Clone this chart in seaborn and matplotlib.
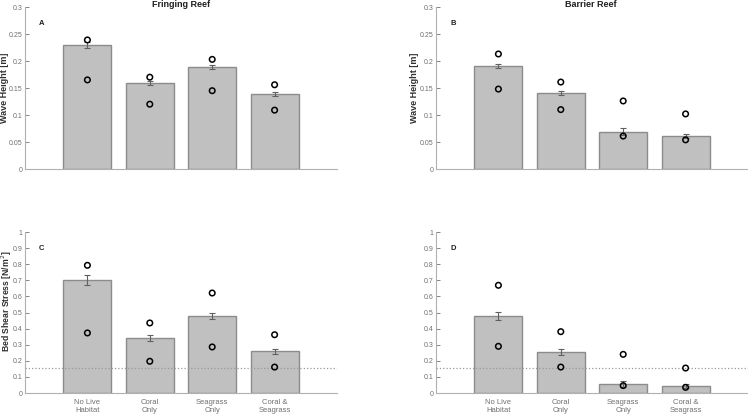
import numpy as np
import pandas as pd
import matplotlib
matplotlib.use('Agg')
import matplotlib.pyplot as plt
import seaborn as sns

# ── data ─────────────────────────────────────────────────────────────────
categories = ['No Live\nHabitat', 'Coral\nOnly', 'Seagrass\nOnly', 'Coral &\nSeagrass']

wave_fring_mean = [0.230, 0.159, 0.189, 0.139]
wave_fring_err  = [0.005, 0.004, 0.004, 0.004]
wave_fring_hi   = [0.239, 0.170, 0.203, 0.156]
wave_fring_lo   = [0.165, 0.120, 0.145, 0.109]

wave_barr_mean = [0.191, 0.141, 0.069, 0.061]
wave_barr_err  = [0.004, 0.004, 0.006, 0.004]
wave_barr_hi   = [0.213, 0.161, 0.126, 0.102]
wave_barr_lo   = [0.148, 0.110, 0.061, 0.054]

shear_fring_mean = [0.702, 0.342, 0.478, 0.259]
shear_fring_err  = [0.030, 0.020, 0.020, 0.016]
shear_fring_hi   = [0.793, 0.435, 0.621, 0.362]
shear_fring_lo   = [0.373, 0.197, 0.286, 0.161]

shear_barr_mean = [0.478, 0.257, 0.056, 0.043]
shear_barr_err  = [0.027, 0.019, 0.017, 0.010]
shear_barr_hi   = [0.669, 0.381, 0.240, 0.155]
shear_barr_lo   = [0.290, 0.161, 0.046, 0.035]

shear_threshold = 0.155

BAR_FACE = '#c0c0c0'
BAR_EDGE = '#8c8c8c'
AX_GREY  = '#b0b0b0'
TXT_GREY = '#707070'

sns.set_style('white')
plt.rcParams['font.family'] = ['Liberation Sans', 'DejaVu Sans']

W, H = 748, 415
fig = plt.figure(figsize=(W / 100, H / 100), dpi=100)

def px_axes(left, top, right, bottom):
    return fig.add_axes([left / W, 1 - bottom / H, (right - left) / W, (bottom - top) / H])

ax_a = px_axes(25, 7, 337, 169)
ax_b = px_axes(436, 7, 748, 169)
ax_c = px_axes(25, 232, 337, 393)
ax_d = px_axes(436, 232, 748, 393)


def draw_panel(ax, mean, err, hi, lo, ymax, yticks, letter, letter_y, show_x):
    df = pd.DataFrame({'habitat': categories, 'value': mean})
    sns.barplot(data=df, x='habitat', y='value', ax=ax, color=BAR_FACE,
                saturation=1, width=0.77, edgecolor=BAR_EDGE, linewidth=1.0,
                errorbar=None, order=categories)
    xs = np.arange(len(categories))
    ax.errorbar(xs, mean, yerr=err, fmt='none', ecolor='#606060',
                elinewidth=0.8, capsize=2, capthick=0.8, zorder=4)
    pts = pd.DataFrame({'habitat': categories * 2, 'value': list(hi) + list(lo)})
    sns.stripplot(data=pts, x='habitat', y='value', ax=ax, order=categories,
                  jitter=False, size=4, marker='o', facecolor='none',
                  edgecolor='black', linewidth=1.1, zorder=5)
    ax.set_xlim(-1, 4)
    ax.set_ylim(0, ymax)
    ax.set_yticks(yticks)
    ax.set_yticklabels([f'{t:g}' for t in yticks])
    ax.set_xlabel('')
    ax.set_ylabel('')
    for s in ('top', 'right'):
        ax.spines[s].set_visible(False)
    for s in ('left', 'bottom'):
        ax.spines[s].set_color(AX_GREY)
        ax.spines[s].set_linewidth(0.8)
    ax.tick_params(axis='y', direction='in', length=3, width=0.6, color=TXT_GREY,
                   labelsize=5, labelcolor=TXT_GREY, pad=1.8, left=True)
    if show_x:
        ax.tick_params(axis='x', length=0, labelsize=5.5, labelcolor=TXT_GREY, pad=4)
    else:
        ax.set_xticklabels([])
        ax.tick_params(axis='x', length=0)
    ax.text(-0.73, letter_y, letter, fontsize=5.5, fontweight='bold', color='#202020',
            ha='center', va='center')


draw_panel(ax_a, wave_fring_mean, wave_fring_err, wave_fring_hi, wave_fring_lo,
           0.3, np.arange(0, 0.301, 0.05).round(2), 'A', 0.269, False)
draw_panel(ax_b, wave_barr_mean, wave_barr_err, wave_barr_hi, wave_barr_lo,
           0.3, np.arange(0, 0.301, 0.05).round(2), 'B', 0.269, False)
draw_panel(ax_c, shear_fring_mean, shear_fring_err, shear_fring_hi, shear_fring_lo,
           1.0, np.arange(0, 1.01, 0.1).round(1), 'C', 0.9, True)
draw_panel(ax_d, shear_barr_mean, shear_barr_err, shear_barr_hi, shear_barr_lo,
           1.0, np.arange(0, 1.01, 0.1).round(1), 'D', 0.9, True)

for ax in (ax_c, ax_d):
    ax.axhline(shear_threshold, color='#999999', linestyle=':', linewidth=0.9, zorder=3)

# titles sit just above the top tick, like the reference
fig.text(181 / W, 1 - 4.5 / H, 'Fringing Reef', fontsize=6.5, fontweight='bold',
         color='#202020', ha='center', va='center')
fig.text(591 / W, 1 - 4.5 / H, 'Barrier Reef', fontsize=6.5, fontweight='bold',
         color='#202020', ha='center', va='center')

lab_kw = dict(fontweight='bold', color='#303030')
ax_a.set_ylabel('Wave Height [m]', fontsize=6.5, **lab_kw)
ax_b.set_ylabel('Wave Height [m]', fontsize=6.5, **lab_kw)
ax_c.set_ylabel('Bed Shear Stress [N/m$^2$]', fontsize=6.2, **lab_kw)
ax_a.yaxis.set_label_coords(-0.066, 0.5)
ax_c.yaxis.set_label_coords(-0.059, 0.57)
ax_b.yaxis.set_label_coords(-0.069, 0.5)
for ax in (ax_a, ax_b, ax_c):
    ax.yaxis.label.set_va('center')

plt.savefig('out.png', dpi=100)
plt.close()
